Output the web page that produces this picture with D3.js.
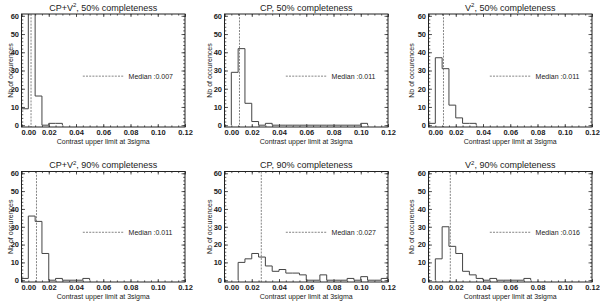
<!DOCTYPE html>
<html>
<head>
<meta charset="utf-8">
<script src="https://cdn.jsdelivr.net/npm/d3@7"></script>
<style>
  body { margin: 0; background: #fff; }
  svg { display: block; font-family: "Liberation Sans", Arial, sans-serif; }
</style>
</head>
<body>
<svg width="600" height="302"></svg>
<script>
// panel data (bin width 0.005)
var panelNames = ["CP+V", "CP", "V", "CP+V", "CP", "V"]
var panelSup = ["2", "", "2", "2", "", "2"]
var panelRest = [", 50% completeness", ", 50% completeness", ", 50% completeness",
                 ", 90% completeness", ", 90% completeness", ", 90% completeness"]
var medians = [0.007, 0.011, 0.011, 0.011, 0.027, 0.016]
var medianLabels = ["0.007", "0.011", "0.011", "0.011", "0.027", "0.016"]
var binStarts = [0, 0.005, 0, 0, 0.01, 0.005]
var binWidth = 0.005
var counts1 = [9, 62, 16, 0, 1, 1]
var counts2 = [29, 42, 12, 2, 0, 1, 0, 0, 0, 0, 0, 0, 0, 0, 0, 0, 0, 0, 0, 1]
var counts3 = [1, 37, 31, 11, 4, 1, 1]
var counts4 = [1, 36, 33, 15, 0, 1, 0, 0, 0, 1]
var counts5 = [10, 12, 15, 13, 8, 5, 6, 4, 4, 3, 0, 0, 3, 0, 0, 0, 1, 0, 2, 0, 0, 1]
var counts6 = [12, 30, 19, 15, 5, 3, 1, 0, 1, 0, 0, 0, 0, 1]
var allCounts = [counts1, counts2, counts3, counts4, counts5, counts6]
var xTicks = [0, 0.02, 0.04, 0.06, 0.08, 0.10, 0.12]
var yTicks = [0, 10, 20, 30, 40, 50, 60]

//layout
var cols = [21.5, 224.5, 428.5]
var rows = [14, 171.5]
var heights = [113, 110.5]
var pw = 163.5
var ylabOff = [9, 13, 14.5]

var svg = d3.select("svg")
var defs = svg.append("defs")

var drawPanel = function(i)
{
    var r = Math.floor(i / 3)
    var left = cols[i % 3], top = rows[r], ph = heights[r]
    var g = svg.append("g").attr("transform", "translate(" + left + "," + top + ")")

    var xScale = d3.scaleLinear().domain([0, 0.12]).range([0, pw])
    var yScale = d3.scaleLinear().domain([-1, 61]).range([ph, 0])

    defs.append("clipPath").attr("id", "clip" + i)
        .append("rect").attr("width", pw).attr("height", ph)

    // histogram as steps
    var pts = [[binStarts[i], 0]]
    allCounts[i].forEach(function(c, k){ pts.push([binStarts[i] + k * binWidth, c]) })
    var last = allCounts[i].length
    pts.push([binStarts[i] + last * binWidth, allCounts[i][last - 1]])
    pts.push([binStarts[i] + last * binWidth, 0])

    var lineGen = d3.line()
        .x(function(d){ return xScale(d[0]) })
        .y(function(d){ return yScale(d[1]) })
        .curve(d3.curveStepAfter)

    g.append("path").datum(pts)
        .attr("d", lineGen)
        .attr("clip-path", "url(#clip" + i + ")")
        .attr("fill", "none").attr("stroke", "#444").attr("stroke-width", 1)

    // median line
    g.append("line")
        .attr("x1", xScale(medians[i])).attr("x2", xScale(medians[i]))
        .attr("y1", 0).attr("y2", ph)
        .attr("stroke", "#666").attr("stroke-width", 0.8)
        .attr("stroke-dasharray", "2,1.2")

    // legend
    var ly = ph * 0.55
    g.append("line")
        .attr("x1", pw * 0.375).attr("x2", pw * 0.625)
        .attr("y1", ly).attr("y2", ly)
        .attr("stroke", "#666").attr("stroke-width", 0.8)
        .attr("stroke-dasharray", "2,1.2")
    g.append("text").attr("x", pw * 0.655).attr("y", ly + 2.5)
        .attr("font-size", 7).attr("fill", "#222")
        .text("Median :" + medianLabels[i])

    // axes, ticks inside like IDL
    var xMinor = d3.range(0, 0.1201, 0.005)
    var yMinor = d3.range(0, 61, 2)
    var bottom = g.append("g").attr("transform", "translate(0," + ph + ")")
        .call(d3.axisBottom(xScale).tickValues(xTicks).tickSizeInner(-3).tickSizeOuter(0)
            .tickPadding(3).tickFormat(d3.format(".2f")))
    bottom.selectAll("text").attr("font-size", 7.5).attr("font-weight", "bold").attr("fill", "#222")
    // first label sits right of the corner, as in the original
    bottom.selectAll("text").filter(function(d){ return d == 0 }).attr("text-anchor", "start").attr("x", -0.5)
    g.append("g").attr("transform", "translate(0," + ph + ")")
        .call(d3.axisBottom(xScale).tickValues(xMinor).tickSizeInner(-1.6).tickSizeOuter(0).tickFormat(""))
    g.append("g")
        .call(d3.axisTop(xScale).tickValues(xTicks).tickSizeInner(-3).tickSizeOuter(0).tickFormat(""))
    g.append("g")
        .call(d3.axisTop(xScale).tickValues(xMinor).tickSizeInner(-1.6).tickSizeOuter(0).tickFormat(""))

    var leftAx = g.append("g")
        .call(d3.axisLeft(yScale).tickValues(yTicks).tickSizeInner(-3.5).tickSizeOuter(0).tickPadding(2.5))
    leftAx.selectAll("text").attr("font-size", 7.5).attr("font-weight", "bold").attr("fill", "#222")
    g.append("g")
        .call(d3.axisLeft(yScale).tickValues(yMinor).tickSizeInner(-1.8).tickSizeOuter(0).tickFormat(""))
    g.append("g").attr("transform", "translate(" + pw + ",0)")
        .call(d3.axisRight(yScale).tickValues(yTicks).tickSizeInner(-3.5).tickSizeOuter(0).tickFormat(""))
    g.append("g").attr("transform", "translate(" + pw + ",0)")
        .call(d3.axisRight(yScale).tickValues(yMinor).tickSizeInner(-1.8).tickSizeOuter(0).tickFormat(""))

    g.selectAll(".domain").remove()
    g.selectAll(".tick line").attr("stroke", "#333").attr("stroke-width", 0.8)

    // frame
    g.append("rect").attr("width", pw).attr("height", ph)
        .attr("fill", "none").attr("stroke", "#222").attr("stroke-width", 1)

    // titles
    var t = g.append("text").attr("x", pw / 2).attr("y", -3.5)
        .attr("text-anchor", "middle").attr("font-size", 9).attr("fill", "#222")
    t.append("tspan").text(panelNames[i])
    if (panelSup[i] != "")
        t.append("tspan").attr("font-size", 6).attr("dy", -3.5).text(panelSup[i])
    t.append("tspan").attr("dy", panelSup[i] != "" ? 3.5 : 0).text(panelRest[i])

    g.append("text").attr("x", pw / 2).attr("y", ph + 16.5)
        .attr("text-anchor", "middle").attr("font-size", 7).attr("fill", "#222")
        .text("Contrast upper limit at 3sigma")

    g.append("text")
        .attr("transform", "translate(" + (-ylabOff[i % 3]) + "," + (ph / 2) + ") rotate(-90)")
        .attr("text-anchor", "middle").attr("font-size", 7).attr("fill", "#222")
        .text("Nb of occurences")
}

for (var i = 0; i < 6; i++) drawPanel(i)
</script>
</body>
</html>
